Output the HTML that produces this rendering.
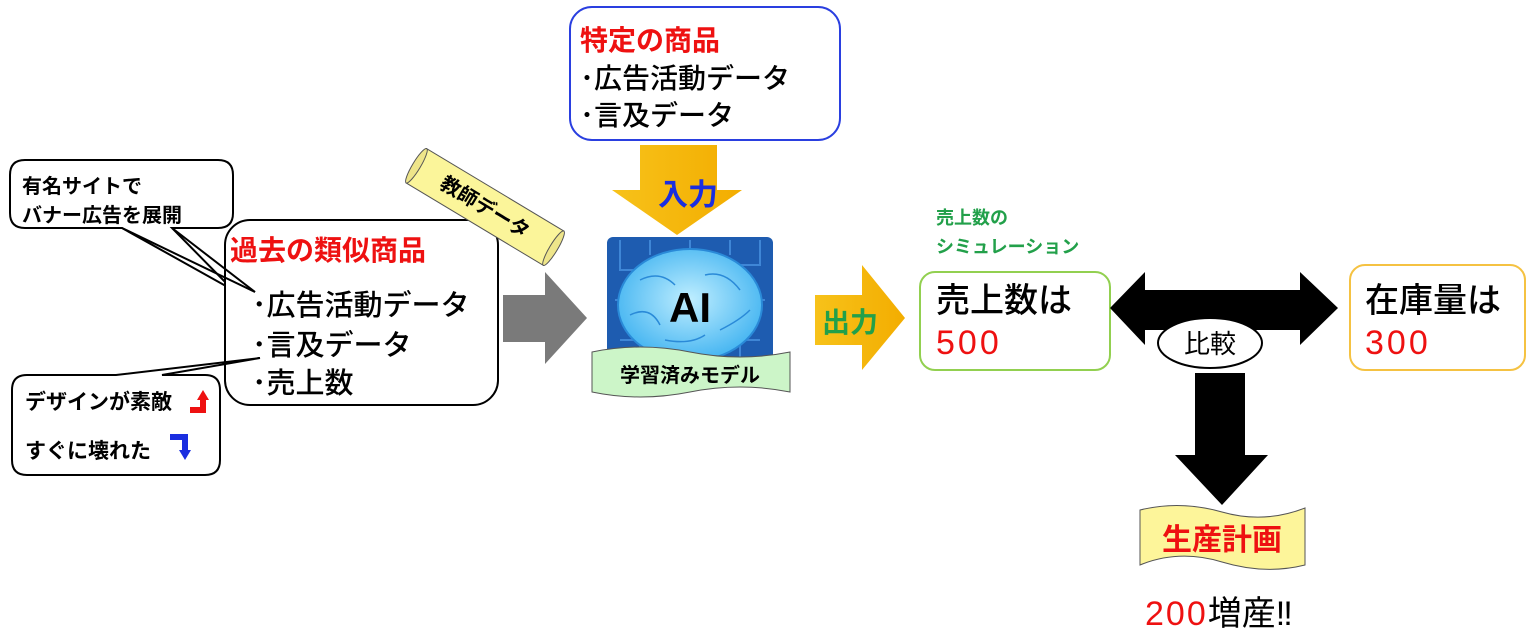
<!DOCTYPE html>
<html><head><meta charset="utf-8"><style>
html,body{margin:0;padding:0;background:#fff;}
svg{display:block;font-family:"Liberation Sans","Noto Sans CJK JP",sans-serif;}
</style></head><body>
<svg width="1536" height="641" viewBox="0 0 1536 641" xmlns="http://www.w3.org/2000/svg">
<defs>
<linearGradient id="yg" x1="0" y1="0" x2="1" y2="0"><stop offset="0" stop-color="#f7c21a"/><stop offset="1" stop-color="#f3ad00"/></linearGradient>
<radialGradient id="brain" cx="0.5" cy="0.45" r="0.6"><stop offset="0" stop-color="#bfeeff"/><stop offset="1" stop-color="#3ab0f0"/></radialGradient>
</defs>

<rect x="570" y="7" width="270" height="133" rx="22" fill="#fff" stroke="#2a3fe0" stroke-width="2"/>
<text x="580" y="50" font-size="28" font-weight="bold" fill="#ee1111">特定の商品</text>
<text x="580" y="88" font-size="28" fill="#000" font-weight="500">･広告活動データ</text>
<text x="580" y="125" font-size="28" fill="#000" font-weight="500">･言及データ</text>

<polygon points="640,145 717,145 717,190 742,190 677,235 612,190 640,190" fill="url(#yg)"/>
<text x="688" y="205" font-size="30" font-weight="bold" fill="#1a2ee0" text-anchor="middle">入力</text>

<path d="M30,160 H218 Q233,160 233,175 V213 Q233,228 218,228 H172 L233,290 L122,228 H25 Q10,228 10,213 V175 Q10,160 25,160 Z" fill="#fff" stroke="#000" stroke-width="2"/>

<rect x="225" y="220" width="273" height="185" rx="25" fill="#fff" stroke="#000" stroke-width="2"/>
<path d="M122,228 L255,292" stroke="#000" stroke-width="2" fill="none"/>
<path d="M172,228 L255,292" stroke="#000" stroke-width="2" fill="none"/>
<text x="230" y="260" font-size="28" font-weight="bold" fill="#ee1111">過去の類似商品</text>
<text x="252" y="315" font-size="29" fill="#000" font-weight="500">･広告活動データ</text>
<text x="252" y="355" font-size="29" fill="#000" font-weight="500">･言及データ</text>
<text x="252" y="393" font-size="29" fill="#000" font-weight="500">･売上数</text>

<text x="22" y="193" font-size="20" font-weight="bold">有名サイトで</text>
<text x="22" y="222" font-size="20" font-weight="bold">バナー広告を展開</text>

<path d="M27,375 H116 L260,358 L162,375 H205 Q220,375 220,390 V460 Q220,475 205,475 H27 Q12,475 12,460 V390 Q12,375 27,375 Z" fill="#fff" stroke="#000" stroke-width="2"/>
<text x="25" y="409" font-size="21" font-weight="bold">デザインが素敵</text>
<path d="M190,410 H203 V398" stroke="#ee1111" stroke-width="6" fill="none"/>
<polygon points="197,400 203,390 209,400" fill="#ee1111"/>
<text x="25" y="458" font-size="21" font-weight="bold">すぐに壊れた</text>
<path d="M170,437 H185 V452" stroke="#1a2ee0" stroke-width="6" fill="none"/>
<polygon points="179,450 185,460 191,450" fill="#1a2ee0"/>

<g transform="translate(485,207) rotate(31)">
<rect x="-80" y="-20" width="160" height="40" fill="#fbf59a" stroke="#555" stroke-width="1"/>
<ellipse cx="-80" cy="0" rx="4" ry="20" fill="#eee58a" stroke="#555"/>
<ellipse cx="80" cy="0" rx="4" ry="20" fill="#eee58a" stroke="#555"/>
<text x="0" y="7" font-size="20" font-weight="bold" text-anchor="middle">教師データ</text>
</g>

<polygon points="503,295 545,295 545,272 587,318 545,364 545,342 503,342" fill="#7a7a7a"/>

<rect x="607" y="237" width="166" height="140" rx="6" fill="#1e5cb0"/>
<g stroke="#3f86d6" stroke-width="2" fill="none">
<path d="M620,240 V270 H640"/><path d="M760,240 V265 H740"/><path d="M615,300 H635"/><path d="M765,300 H745"/>
<path d="M650,240 V255"/><path d="M730,240 V255"/><path d="M620,340 H640 V360"/><path d="M760,340 H740 V360"/>
<path d="M690,240 V250"/>
</g>
<ellipse cx="690" cy="305" rx="72" ry="56" fill="url(#brain)" stroke="#2a8ad8" stroke-width="2"/>
<g stroke="#2a8ad8" stroke-width="1.5" fill="none">
<path d="M640,280 Q660,270 675,285"/><path d="M705,275 Q725,270 740,290"/><path d="M630,315 Q650,305 660,325"/><path d="M720,330 Q740,320 750,310"/><path d="M665,340 Q690,345 705,335"/>
</g>
<text x="690" y="322" font-size="42" font-weight="bold" text-anchor="middle">AI</text>
<path d="M592,352 Q640,342 690,352 T790,352 V392 Q740,382 690,392 T592,392 Z" fill="#ccf5c8" stroke="#555" stroke-width="1"/>
<text x="690" y="382" font-size="20" font-weight="bold" text-anchor="middle">学習済みモデル</text>

<polygon points="815,295 862,295 862,265 905,318 862,370 862,345 815,345" fill="url(#yg)"/>
<text x="850" y="332" font-size="28" font-weight="bold" fill="#22a04a" text-anchor="middle">出力</text>

<text x="936" y="224" font-size="18" font-weight="bold" fill="#22a04a">売上数の</text>
<text x="936" y="253" font-size="18" font-weight="bold" fill="#22a04a">シミュレーション</text>

<rect x="920" y="272" width="190" height="98" rx="15" fill="#fff" stroke="#92d050" stroke-width="2"/>
<text x="936" y="312" font-size="34" font-weight="500">売上数は</text>
<text x="936" y="354" font-size="34" fill="#ee1111" letter-spacing="3">500</text>

<polygon points="1110,308 1145,272 1145,290 1300,290 1300,272 1338,308 1300,345 1300,330 1145,330 1145,345" fill="#000"/>
<polygon points="1195,373 1245,373 1245,455 1268,455 1222,505 1175,455 1195,455" fill="#000"/>
<ellipse cx="1210" cy="343" rx="52" ry="25" fill="#fff" stroke="#000" stroke-width="2"/>
<text x="1210" y="353" font-size="26" text-anchor="middle">比較</text>

<rect x="1350" y="265" width="175" height="105" rx="15" fill="#fff" stroke="#f5c242" stroke-width="2"/>
<text x="1365" y="312" font-size="34" font-weight="500">在庫量は</text>
<text x="1365" y="354" font-size="34" fill="#ee1111" letter-spacing="3">300</text>

<path d="M1140,510 Q1180,500 1222,512 T1305,508 V565 Q1265,575 1222,562 T1140,565 Z" fill="#fdf59a" stroke="#555" stroke-width="1"/>
<text x="1222" y="550" font-size="30" font-weight="bold" fill="#ee1111" text-anchor="middle">生産計画</text>

<text x="1145" y="625" font-size="34"><tspan fill="#ee1111" letter-spacing="2">200</tspan><tspan fill="#000">増産‼</tspan></text>
</svg>
</body></html>
